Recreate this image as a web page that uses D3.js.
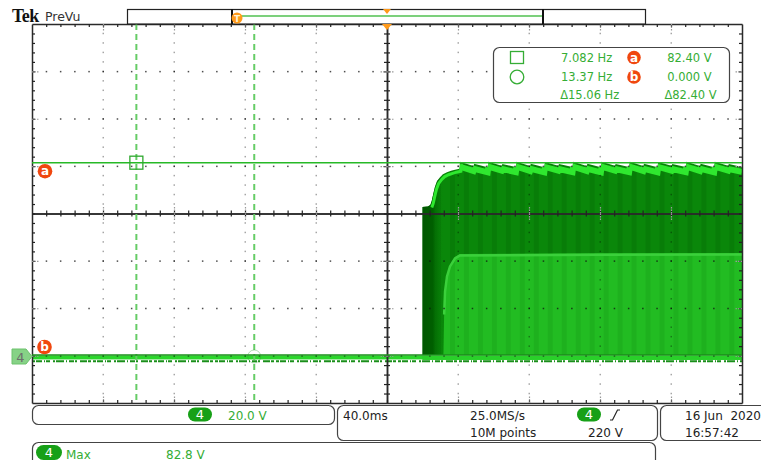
<!DOCTYPE html>
<html><head><meta charset="utf-8">
<script src="https://cdn.jsdelivr.net/npm/d3@7"></script>
<style>
html,body{margin:0;padding:0;background:#fff;}
svg{display:block;font-family:"DejaVu Sans",sans-serif;}
</style></head><body>
<svg id="scope" width="761" height="460"></svg>
<script>
// ---- acquisition settings ----
const timeWindowMs = [-200, 200];          // 10 div x 40.0 ms, trigger at centre
const timeDivMs = 40;
const voltDivisions = 8;

// ---- cursors ----
const cursorTimesMs = [-141.2, -74.79];    // square cursor, circle cursor
const cursorLevelsV = [82.40, 0.000];      // a, b
const readoutFreq = ["7.082 Hz", "13.37 Hz", "\u039415.06 Hz"];
const readoutVolt = ["82.40 V", "0.000 V", "\u039482.40 V"];

// ---- channel 4 burst: rising edge of the outer envelope (ms, V) ----
const burstRise = [
  [19.9, 0], [19.9, 63.4], [23.0, 63.6], [24.4, 64.3], [25.2, 66.0], [26.0, 68.8],
  [27.0, 72.0], [28.2, 74.5], [29.9, 76.2], [31.5, 77.4], [33.8, 78.3], [36.1, 78.9],
  [38.3, 79.4], [40.8, 79.8]
];
// ---- ripple teeth along the top of the envelope (ms, V) ----
const burstTeeth = [
  [41.1, 82.8], [48.7, 81.0], [49.1, 81.9], [56.7, 80.4],
  [57.1, 82.8], [64.6, 81.1], [65.0, 81.8], [72.6, 80.5],
  [73.0, 82.8], [80.6, 81.0], [81.0, 81.9], [88.6, 80.4],
  [89.0, 82.7], [96.5, 81.1], [96.9, 81.8], [104.5, 80.5],
  [104.9, 82.8], [112.5, 81.0], [112.9, 81.9], [120.5, 80.4],
  [120.9, 82.8], [128.4, 81.1], [128.8, 81.8], [136.4, 80.5],
  [136.8, 82.8], [144.4, 81.0], [144.8, 81.9], [152.4, 80.4],
  [152.8, 82.7], [160.3, 81.1], [160.7, 81.8], [168.3, 80.5],
  [168.7, 82.8], [176.3, 81.0], [176.7, 81.9], [184.3, 80.4],
  [184.7, 82.8], [192.2, 81.1], [192.6, 81.8], [200.0, 80.6]
];
// ---- dense inner region of the burst (ms, V) ----
const innerRegion = [
  [31.8, 0], [32.2, 18.0], [32.7, 27.8], [33.8, 34.3], [35.5, 38.6],
  [38.3, 42.0], [41.1, 43.3], [120.0, 43.6], [200.0, 43.7], [200.0, 0]
];
const darkEdgeMs = [19.9, 31.8];           // heavily overlapped leading edge
const traceBandV = [-0.2, -1.9];           // thickness of the idle trace
const noiseLevelV = -2.7;
const maxReadV = 82.8;

// ---- layout ----
const svg = d3.select("#scope");
const L = 32, R = 742, T = 24, B = 403;
const x = d3.scaleLinear().domain(timeWindowMs).range([L, R]);
const gy = d3.scaleLinear().domain([-voltDivisions / 2, voltDivisions / 2]).range([B, T]);
const y = d3.scaleLinear().domain([0, 100]).range([355, 121.6]);

const defs = svg.append("defs");
const stripes = defs.append("pattern").attr("id", "stripes").attr("patternUnits", "userSpaceOnUse")
  .attr("x", x(41.1)).attr("y", 0).attr("width", x(48.97) - x(41.1)).attr("height", 10);
stripes.append("rect").attr("width", 20).attr("height", 10).attr("fill", "#0a870a");
stripes.append("rect").attr("x", 4).attr("width", 5).attr("height", 10).attr("fill", "#087d08");
const innerStripes = defs.append("pattern").attr("id", "innerStripes").attr("patternUnits", "userSpaceOnUse")
  .attr("x", x(41.1)).attr("y", 0).attr("width", x(48.97) - x(41.1)).attr("height", 10);
innerStripes.append("rect").attr("width", 20).attr("height", 10).attr("fill", "#22bc22");
innerStripes.append("rect").attr("x", 4).attr("width", 5).attr("height", 10).attr("fill", "#1eb11e");
const edgeGrad = defs.append("linearGradient").attr("id", "edgeGrad");
edgeGrad.append("stop").attr("offset", "0").attr("stop-color", "#005600");
edgeGrad.append("stop").attr("offset", "0.5").attr("stop-color", "#005f00");
edgeGrad.append("stop").attr("offset", "1").attr("stop-color", "#0a870a").attr("stop-opacity", 0);

const outline = burstRise.concat(burstTeeth, [[200, 0]]);
const lineGen = d3.line().x(d => x(d[0])).y(d => y(d[1]));
defs.append("clipPath").attr("id", "burstClip").append("path").attr("d", lineGen(outline) + "Z");

// ---- idle trace ----
svg.append("rect").attr("x", x(timeWindowMs[0])).attr("width", x(timeWindowMs[1]) - x(timeWindowMs[0]))
  .attr("y", y(traceBandV[0])).attr("height", y(traceBandV[1]) - y(traceBandV[0])).attr("fill", "#2bd62b");
svg.append("line").attr("x1", x(timeWindowMs[0])).attr("x2", x(timeWindowMs[1]))
  .attr("y1", y(noiseLevelV)).attr("y2", y(noiseLevelV))
  .attr("stroke", "#1a8f1a").attr("stroke-width", 2)
  .attr("stroke-dasharray", "3,1,6,2,1,1,4,3,2,1,8,2,1,2,5,1,2,3,7,1,3,2");

// ---- burst ----
const burst = svg.append("g").attr("clip-path", "url(#burstClip)");
burst.append("rect").attr("x", x(darkEdgeMs[0])).attr("width", x(200) - x(darkEdgeMs[0]))
  .attr("y", y(90)).attr("height", y(0) - y(90)).attr("fill", "url(#stripes)");
burst.append("path").attr("d", lineGen(innerRegion) + "Z").attr("fill", "url(#innerStripes)");
burst.append("path").attr("d", lineGen(innerRegion.slice(1, -1))).attr("fill", "none")
  .attr("stroke", "#3bd03b").attr("stroke-width", 2.5).attr("transform", "translate(0,1.5)");
burst.append("rect").attr("x", x(darkEdgeMs[0])).attr("width", x(darkEdgeMs[1]) - x(darkEdgeMs[0]))
  .attr("y", y(90)).attr("height", y(0) - y(90)).attr("fill", "url(#edgeGrad)");
burst.append("path").attr("d", lineGen(burstTeeth)).attr("fill", "none")
  .attr("stroke", "#2fe82f").attr("stroke-width", 6).attr("transform", "translate(0,5)");
burst.append("path").attr("d", lineGen(burstRise.slice(3).concat([burstTeeth[0]]))).attr("fill", "none")
  .attr("stroke", "#2fe82f").attr("stroke-width", 3).attr("transform", "translate(1.5,2.5)");
svg.append("rect").attr("x", x(darkEdgeMs[0])).attr("width", x(200) - x(darkEdgeMs[0]))
  .attr("y", y(traceBandV[0]) + 0.5).attr("height", 4).attr("fill", "#29d029");

// ---- graticule ----
const grid = svg.append("g");
const minorTimes = d3.range(timeWindowMs[0] + 8, timeWindowMs[1], 8);
const majorTimes = d3.range(timeWindowMs[0] + timeDivMs, timeWindowMs[1], timeDivMs).filter(t => t !== 0);
const minorDivs = d3.range(-19, 20).map(k => k / 5);
const majorDivs = [-3, -2, -1, 1, 2, 3];
majorDivs.forEach(d => {
  grid.selectAll(null).data(minorTimes).enter().append("rect")
    .attr("x", t => x(t) - 0.5).attr("y", gy(d) - 0.5).attr("width", 1.5).attr("height", 1.5)
    .attr("fill", "#111").attr("fill-opacity", 0.75);
});
majorTimes.forEach(t => {
  grid.selectAll(null).data(minorDivs).enter().append("rect")
    .attr("x", x(t) - 0.5).attr("y", d => gy(d) - 0.75).attr("width", 1.5).attr("height", 1.5)
    .attr("fill", "#000").attr("fill-opacity", 0.35);
});

function styleAxis(g, col) {
  g.selectAll("text").remove();
  g.selectAll("line").attr("stroke", col).attr("stroke-width", 1.2);
  g.select(".domain").attr("stroke", "#2a2a2a").attr("stroke-width", 1.5);
}
const noLabel = () => "";
// centre crosshair
[d3.axisTop, d3.axisBottom].forEach(a => {
  grid.append("g").attr("transform", `translate(0,${gy(0)})`)
    .call(a(x).tickValues(minorTimes).tickSize(3).tickSizeOuter(0).tickFormat(noLabel))
    .call(g => styleAxis(g, "#222"));
});
[d3.axisLeft, d3.axisRight].forEach(a => {
  grid.append("g").attr("transform", `translate(${x(0)},0)`)
    .call(a(gy).tickValues(minorDivs).tickSize(3).tickSizeOuter(0).tickFormat(noLabel))
    .call(g => styleAxis(g, "#222"));
});
// major marks along the crosshair
[d3.axisTop, d3.axisBottom].forEach(a => {
  grid.append("g").attr("transform", `translate(0,${gy(0)})`)
    .call(a(x).tickValues(majorTimes).tickSize(7).tickSizeOuter(0).tickFormat(noLabel))
    .call(g => { styleAxis(g, "#9a9a9a"); g.select(".domain").remove(); g.selectAll("line").attr("stroke-dasharray", "1.5,1"); });
});
[d3.axisLeft, d3.axisRight].forEach(a => {
  grid.append("g").attr("transform", `translate(${x(0)},0)`)
    .call(a(gy).tickValues(majorDivs).tickSize(7).tickSizeOuter(0).tickFormat(noLabel))
    .call(g => { styleAxis(g, "#9a9a9a"); g.select(".domain").remove(); g.selectAll("line").attr("stroke-dasharray", "1.5,1"); });
});
// frame with edge ticks
const frames = [
  [d3.axisBottom(x), `translate(0,${T})`, minorTimes, majorTimes],
  [d3.axisTop(x), `translate(0,${B})`, minorTimes, majorTimes],
  [d3.axisRight(gy), `translate(${L},0)`, minorDivs, majorDivs],
  [d3.axisLeft(gy), `translate(${R},0)`, minorDivs, majorDivs]
];
frames.forEach(([ax, tr, minor, major]) => {
  grid.append("g").attr("transform", tr)
    .call(ax.tickValues(minor).tickSize(3).tickSizeOuter(0).tickFormat(noLabel))
    .call(g => styleAxis(g, "#222"));
});
frames.forEach(([ax, tr, minor, major]) => {
  grid.append("g").attr("transform", tr)
    .call(ax.tickValues(major).tickSize(7).tickSizeOuter(0).tickFormat(noLabel))
    .call(g => { styleAxis(g, "#9a9a9a"); g.select(".domain").remove(); g.selectAll("line").attr("stroke-dasharray", "1.5,1"); });
});

// ---- cursors ----
const cur = svg.append("g");
cursorTimesMs.forEach(t => {
  cur.append("line").attr("x1", x(t)).attr("x2", x(t)).attr("y1", T).attr("y2", B)
    .attr("stroke", "#66cc66").attr("stroke-width", 2).attr("stroke-dasharray", "6,4");
});
cursorLevelsV.forEach((v, i) => {
  cur.append("line").attr("x1", L).attr("x2", R).attr("y1", y(v)).attr("y2", y(v))
    .attr("stroke", i === 0 ? "#27b927" : "#1b8f1b").attr("stroke-width", 1.4);
});
cur.append("rect").attr("x", x(cursorTimesMs[0]) - 6.5).attr("y", y(cursorLevelsV[0]) - 6.5)
  .attr("width", 13).attr("height", 13).attr("fill", "none").attr("stroke", "#2ea82e").attr("stroke-width", 1.3);
cur.append("circle").attr("cx", x(cursorTimesMs[1])).attr("cy", y(cursorLevelsV[1]) + 1.5).attr("r", 6.5)
  .attr("fill", "none").attr("stroke", "#2a9a2a").attr("stroke-width", 1).attr("stroke-opacity", 0.35);

const orange = "#f0470f";
function tagCircle(g, cx, cy, letter, r) {
  g.append("circle").attr("cx", cx).attr("cy", cy).attr("r", r).attr("fill", orange);
  g.append("text").attr("x", cx).attr("y", cy + 4).attr("text-anchor", "middle")
    .attr("fill", "#fff").attr("font-size", 12).attr("font-weight", "bold").text(letter);
}
tagCircle(svg, 45, y(cursorLevelsV[0]) + 8.5, "a", 7.3);
tagCircle(svg, 44.5, y(cursorLevelsV[1]) - 8, "b", 7.3);

// channel 4 ground marker
svg.append("path").attr("d", `M12,${y(0) - 6}H26L32,${y(0) + 1.5}L26,${y(0) + 9}H12Z`)
  .attr("fill", "#86d286").attr("stroke", "#6cc26c");
svg.append("text").attr("x", 20.5).attr("y", y(0) + 6.5).attr("text-anchor", "middle")
  .attr("fill", "#6d6d6d").attr("font-size", 13).text("4");

// ---- top bar ----
svg.append("text").attr("x", 12).attr("y", 21.5).attr("font-family", "Liberation Serif")
  .attr("font-weight", "bold").attr("font-size", 18).attr("letter-spacing", -0.6).attr("fill", "#111").text("Tek");
svg.append("text").attr("x", 45).attr("y", 21).attr("font-size", 12.5).attr("fill", "#333").text("PreVu");
svg.append("rect").attr("x", 127.5).attr("y", 9.5).attr("width", 518).attr("height", 14.5)
  .attr("fill", "#fff").attr("stroke", "#222").attr("stroke-width", 1.2);
svg.append("line").attr("x1", 240).attr("x2", 542).attr("y1", 16).attr("y2", 16)
  .attr("stroke", "#7cd07c").attr("stroke-width", 2);
[232, 543].forEach(px => svg.append("line").attr("x1", px).attr("x2", px).attr("y1", 9).attr("y2", 24)
  .attr("stroke", "#111").attr("stroke-width", 2));
svg.append("circle").attr("cx", 237).attr("cy", 18).attr("r", 5.5).attr("fill", "#ff9a1a");
svg.append("text").attr("x", 237).attr("y", 21.5).attr("text-anchor", "middle").attr("font-size", 9)
  .attr("font-weight", "bold").attr("fill", "#fff3d0").text("T");
svg.append("path").attr("d", `M${x(0) - 4},9L${x(0) + 4},9L${x(0)},14Z`).attr("fill", "#ff9a1a");
svg.append("path").attr("d", `M${x(0) - 5},${T}L${x(0) + 5},${T}L${x(0)},${T + 6}Z`).attr("fill", "#ff9a1a");

// ---- cursor readout box ----
const green = "#35ad35";
const box = svg.append("g");
box.append("rect").attr("x", 493.5).attr("y", 47.5).attr("width", 236).attr("height", 55).attr("rx", 6)
  .attr("fill", "#fff").attr("stroke", "#444").attr("stroke-width", 1.2);
box.append("rect").attr("x", 510.5).attr("y", 51.5).attr("width", 13).attr("height", 12)
  .attr("fill", "none").attr("stroke", green).attr("stroke-width", 1.3);
box.append("circle").attr("cx", 517).attr("cy", 77).attr("r", 6.8)
  .attr("fill", "none").attr("stroke", green).attr("stroke-width", 1.3);
const rowBase = [62.3, 80.7, 99];
const freqRight = [612.3, 612.3, 619.3];
const voltRight = [711.7, 711.7, 716.7];
readoutFreq.forEach((s, i) => box.append("text").attr("x", freqRight[i]).attr("y", rowBase[i])
  .attr("text-anchor", "end").attr("font-size", 11.5).attr("fill", green).text(s));
readoutVolt.forEach((s, i) => box.append("text").attr("x", voltRight[i]).attr("y", rowBase[i])
  .attr("text-anchor", "end").attr("font-size", 11.5).attr("fill", green).text(s));
tagCircle(box, 634, 57.5, "a", 6.8);
tagCircle(box, 634, 77, "b", 6.8);

// ---- bottom status panels ----
const pill = "#17a017";
function panel(px, py, w, h) {
  svg.append("rect").attr("x", px).attr("y", py).attr("width", w).attr("height", h).attr("rx", 6)
    .attr("fill", "#fff").attr("stroke", "#444").attr("stroke-width", 1.2);
}
function chanPill(px, py, w, h) {
  svg.append("rect").attr("x", px).attr("y", py).attr("width", w).attr("height", h).attr("rx", h / 2).attr("fill", pill);
  svg.append("text").attr("x", px + w / 2).attr("y", py + h / 2 + 4.5).attr("text-anchor", "middle")
    .attr("fill", "#fff").attr("font-size", 13).text("4");
}
function label(px, py, s, col) {
  svg.append("text").attr("x", px).attr("y", py).attr("font-size", 12).attr("fill", col)
    .attr("xml:space", "preserve").text(s);
}
panel(32.5, 405.5, 302, 19);
chanPill(188, 407.5, 24, 14);
label(228, 420, (voltDivisions * 2.5).toFixed(1) + " V", green);

panel(337.5, 405.5, 320, 35);
label(343, 420, timeDivMs.toFixed(1) + "ms", "#222");
label(470, 420, "25.0MS/s", "#222");
label(470, 437, "10M points", "#222");
chanPill(577, 407.5, 24, 14);
svg.append("path").attr("d", "M610,420H612.5L617.5,410H620").attr("fill", "none").attr("stroke", "#222").attr("stroke-width", 1.2);
label(588, 437, "220 V", "#222");

panel(660.5, 405.5, 120, 35);
label(685, 420, "16 Jun  2020", "#222");
label(685, 437, "16:57:42", "#222");

panel(32.5, 442.5, 623, 30);
chanPill(36, 445, 26, 15);
label(66, 458.5, "Max", green);
label(166, 458.5, maxReadV.toFixed(1) + " V", green);
</script>
</body></html>
